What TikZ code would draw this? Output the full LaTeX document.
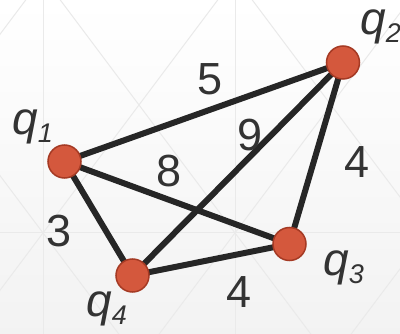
\documentclass[tikz,border=0pt]{standalone}
\usepackage{fontspec}
\setmainfont{Liberation Sans}
\usetikzlibrary{backgrounds}
\definecolor{nodefill}{HTML}{D4583D}
\definecolor{nodeedge}{HTML}{A53A24}
\definecolor{edgecol}{HTML}{262626}
\definecolor{txtcol}{HTML}{333333}
\definecolor{gridcol}{HTML}{EAEAEA}
\newcommand\qlab[1]{{\fontsize{46}{46}\selectfont\itshape q}\raisebox{-8pt}{\fontsize{27}{27}\selectfont\itshape #1}}
\tikzset{
  vert/.style={circle, fill=nodefill, draw=nodeedge, line width=1.5pt, minimum size=33pt, inner sep=0pt},
  edge/.style={draw=edgecol, line width=6pt},
  qname/.style={anchor=base west, inner sep=0pt, text=txtcol},
  weight/.style={inner sep=0pt, text=txtcol, font=\fontsize{45}{45}\selectfont},
  gridline/.style={draw=gridcol, line width=1pt}
}
\begin{document}
\begin{tikzpicture}[x=1pt,y=-1pt]
\useasboundingbox (0,0) rectangle (400,334);
\node[vert] (q1) at (64.5,161.5) {};
\node[vert] (q2) at (343,62.5) {};
\node[vert] (q3) at (289.5,244) {};
\node[vert] (q4) at (132.5,275.5) {};
\begin{scope}[on background layer]
\shade[top color=white, bottom color=black!5] (0,0) rectangle (400,334);
\begin{scope}
\clip (0,0) rectangle (400,334);
\foreach \xo in {-149,43,235,427}{
  \draw[gridline] (\xo-300,233+400) -- (\xo+300,233-400);
  \draw[gridline] (\xo-300,233-400) -- (\xo+300,233+400);
}
\draw[gridline] (43,0) -- (43,334);
\draw[gridline] (235,0) -- (235,334);
\draw[gridline] (0,233) -- (400,233);
\end{scope}
\path[edge] (q1.center) -- (q2.center);
\path[edge] (q1.center) -- (q3.center);
\path[edge] (q1.center) -- (q4.center);
\path[edge] (q2.center) -- (q3.center);
\path[edge] (q2.center) -- (q4.center);
\path[edge] (q3.center) -- (q4.center);
\end{scope}
\node[qname] (l1) at (12,135) {\qlab{1}};
\node[qname] (l2) at (360,35) {\qlab{2}};
\node[qname] (l3) at (323,276) {\qlab{3}};
\node[qname] (l4) at (86,317) {\qlab{4}};
\node[weight] (w12) at (210,79) {5};
\node[weight] (w24) at (250,135) {9};
\node[weight] (w13) at (169.5,171) {8};
\node[weight] (w23) at (357.5,162) {4};
\node[weight] (w14) at (59.5,231) {3};
\node[weight] (w34) at (239.5,292) {4};
\end{tikzpicture}
\end{document}
